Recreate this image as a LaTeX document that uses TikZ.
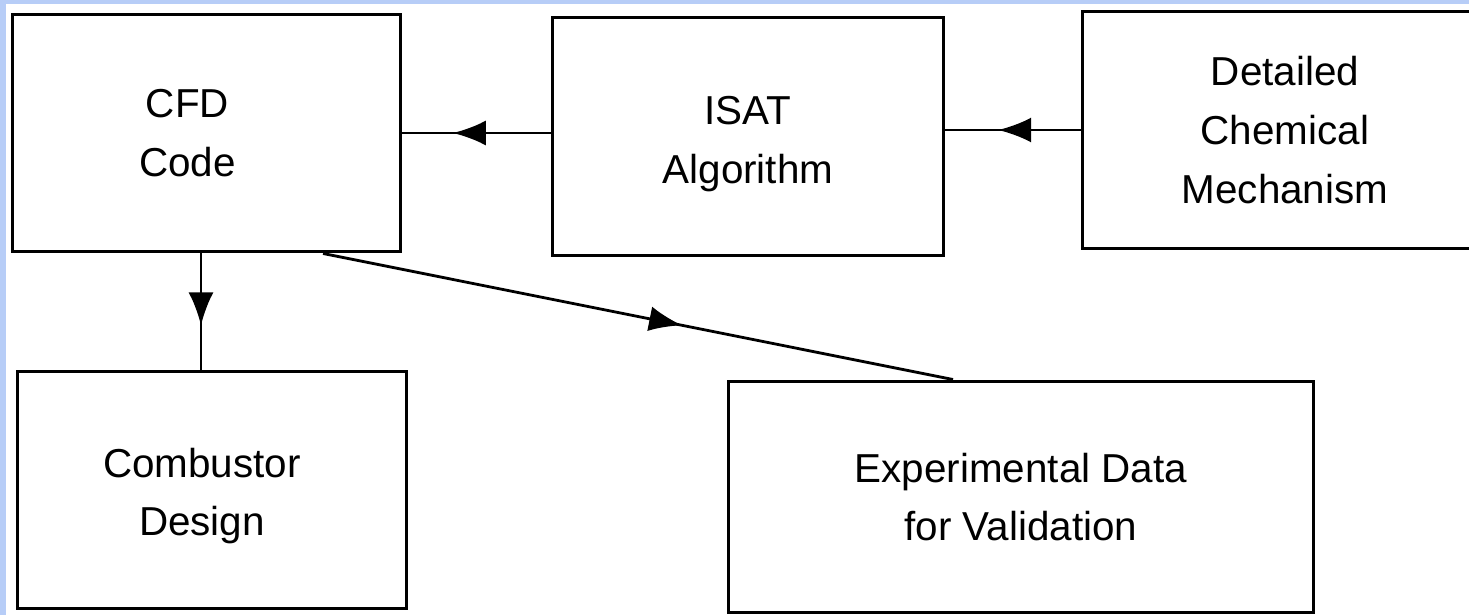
\documentclass[tikz,border=0pt]{standalone}
\usepackage{fontspec}
\setmainfont{Liberation Sans}
\usetikzlibrary{arrows.meta,calc,decorations.markings}
\definecolor{slideblue}{RGB}{183,205,247}

\begin{document}
\begin{tikzpicture}[x=0.02cm, y=-0.02cm]
    \tikzset{
      box/.style={draw, line width=1.7pt, inner sep=0pt, align=center,
        font=\fontsize{23}{33.5}\selectfont},
      boxtext/.style={align=center, inner sep=0pt, font=\fontsize{23}{33.5}\selectfont},
      link/.style={line width=1.6pt},
      midarrow/.style={postaction={decorate}, decoration={markings,
        mark=at position #1 with {\arrow{Latex[length=6.6mm,width=5mm]}}}}
    }
    \useasboundingbox (0,0) rectangle (1469,615);
    \fill[slideblue] (0,0) rectangle (1469,615);
    \fill[white] (6,4) rectangle (1469,615);
    % blocks
    \node[box, minimum width=7.78cm, minimum height=4.76cm,
      label={[boxtext, xshift=-0.38cm]center:CFD\\Code}] (cfd) at (206.5,133) {};
    \node[box, minimum width=7.84cm, minimum height=4.78cm,
      label={[boxtext, yshift=-0.15cm]center:ISAT\\Algorithm}] (isat) at (748,136.5) {};
    \node[box, minimum width=8.12cm, minimum height=4.76cm] (mech) at (1285,130) {Detailed\\Chemical\\Mechanism};
    \node[box, minimum width=7.80cm, minimum height=4.76cm,
      label={[boxtext, xshift=-0.2cm, yshift=-0.12cm]center:Combustor\\Design}] (comb) at (212,490) {};
    \node[box, minimum width=11.72cm, minimum height=4.64cm] (expt) at (1021,497) {Experimental Data\\for Validation};
    % connectors
    \draw[link, midarrow=0.66] (isat.west |- cfd.east) -- (cfd.east);
    \draw[link, midarrow=0.61] (mech.west) -- (mech.west -| isat.east);
    \draw[link, midarrow=0.62] ($(cfd.south)+(-5.5,0)$) -- ($(comb.north)+(-11,0)$);
    \draw[link, midarrow=0.57] ($(cfd.south)+(116.5,0)$) -- ($(expt.north)+(-68,0)$);
\end{tikzpicture}
\end{document}
